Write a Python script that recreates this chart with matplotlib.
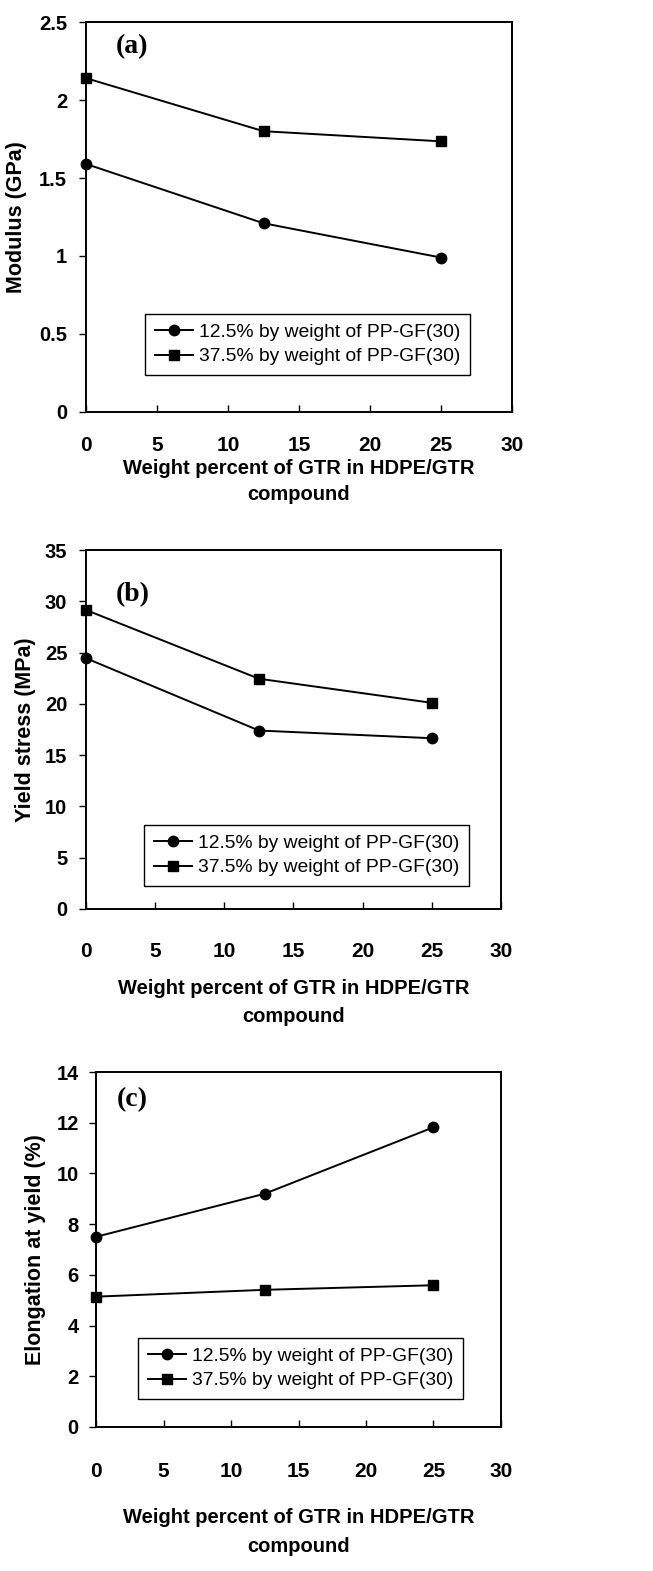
import matplotlib
matplotlib.use("Agg")
import matplotlib.pyplot as plt
from matplotlib.ticker import FormatStrFormatter

plt.rcParams["font.family"] = ["Liberation Sans", "DejaVu Sans"]

gtr_pct = [0, 12.5, 25]
labels = ["12.5% by weight of PP-GF(30)", "37.5% by weight of PP-GF(30)"]

modulus_125 = [1.59, 1.21, 0.99]
modulus_375 = [2.14, 1.80, 1.735]

stress_125 = [24.45, 17.4, 16.65]
stress_375 = [29.15, 22.45, 20.1]

elong_125 = [7.5, 9.2, 11.82]
elong_375 = [5.14, 5.41, 5.59]

W, H = 653, 1571
fig = plt.figure(figsize=(W / 100, H / 100), dpi=100)


def add_panel(left, right, top, bottom):
    return fig.add_axes([left / W, 1 - bottom / H, (right - left) / W, (bottom - top) / H])


def style_panel(ax, ymax, ystep, ylabel, tag, tag_pos, legend_xy, tick_pad, ytick_pad,
                xlabel_pad, ylabel_pad, linespacing):
    ax.set_xlim(0, 30)
    ax.set_ylim(0, ymax)
    ax.set_xticks(range(0, 31, 5))
    yt = [i * ystep for i in range(int(round(ymax / ystep)) + 1)]
    ax.set_yticks(yt)
    ax.yaxis.set_major_formatter(FormatStrFormatter("%g"))
    for s in ax.spines.values():
        s.set_linewidth(1.4)
    ax.tick_params(axis="x", direction="in", length=5, width=1, pad=tick_pad, labelsize=15)
    ax.tick_params(axis="y", direction="out", length=5, width=1, pad=ytick_pad, labelsize=14.5)
    for t in ax.get_xticklabels() + ax.get_yticklabels():
        t.set_fontweight("bold")
    ax.set_xlabel("Weight percent of GTR in HDPE/GTR\ncompound", fontsize=14.5, fontweight="bold",
                  labelpad=xlabel_pad, linespacing=linespacing)
    ax.set_ylabel(ylabel, fontsize=15.5, fontweight="bold", labelpad=ylabel_pad)
    ax.text(tag_pos[0], tag_pos[1], tag, transform=ax.transAxes, ha="center", va="center",
            fontsize=20, fontweight="bold", family="Liberation Serif")
    leg = ax.legend(loc="upper left", bbox_to_anchor=(legend_xy[0] / W, 1 - legend_xy[1] / H),
                    bbox_transform=fig.transFigure, fancybox=False, framealpha=1, edgecolor="black",
                    fontsize=13.9, handlelength=2.0, handletextpad=0.3, borderpad=0.5,
                    labelspacing=0.35, borderaxespad=0)
    leg.get_frame().set_linewidth(1.0)


def draw(ax, y1, y2):
    ax.plot(gtr_pct, y1, color="black", lw=1.4, marker="o", ms=7.5, label=labels[0], clip_on=False)
    ax.plot(gtr_pct, y2, color="black", lw=1.4, marker="s", ms=7.5, label=labels[1], clip_on=False)


ax_a = add_panel(86, 512, 22, 412)
draw(ax_a, modulus_125, modulus_375)
style_panel(ax_a, 2.5, 0.5, "Modulus (GPa)", "(a)", (0.108, 0.936), (145, 314),
            tick_pad=17.5, ytick_pad=8.5, xlabel_pad=3, ylabel_pad=8.5, linespacing=1.45)

ax_b = add_panel(86, 501, 550, 909)
draw(ax_b, stress_125, stress_375)
style_panel(ax_b, 35, 5, "Yield stress (MPa)", "(b)", (0.113, 0.875), (144, 825),
            tick_pad=23.5, ytick_pad=8.5, xlabel_pad=13, ylabel_pad=6.5, linespacing=1.65)

ax_c = add_panel(96, 501, 1072, 1427)
draw(ax_c, elong_125, elong_375)
style_panel(ax_c, 14, 2, "Elongation at yield (%)", "(c)", (0.089, 0.921), (138, 1338),
            tick_pad=25.5, ytick_pad=7.5, xlabel_pad=19, ylabel_pad=7.5, linespacing=1.65)

fig.savefig("out.png", dpi=100)
